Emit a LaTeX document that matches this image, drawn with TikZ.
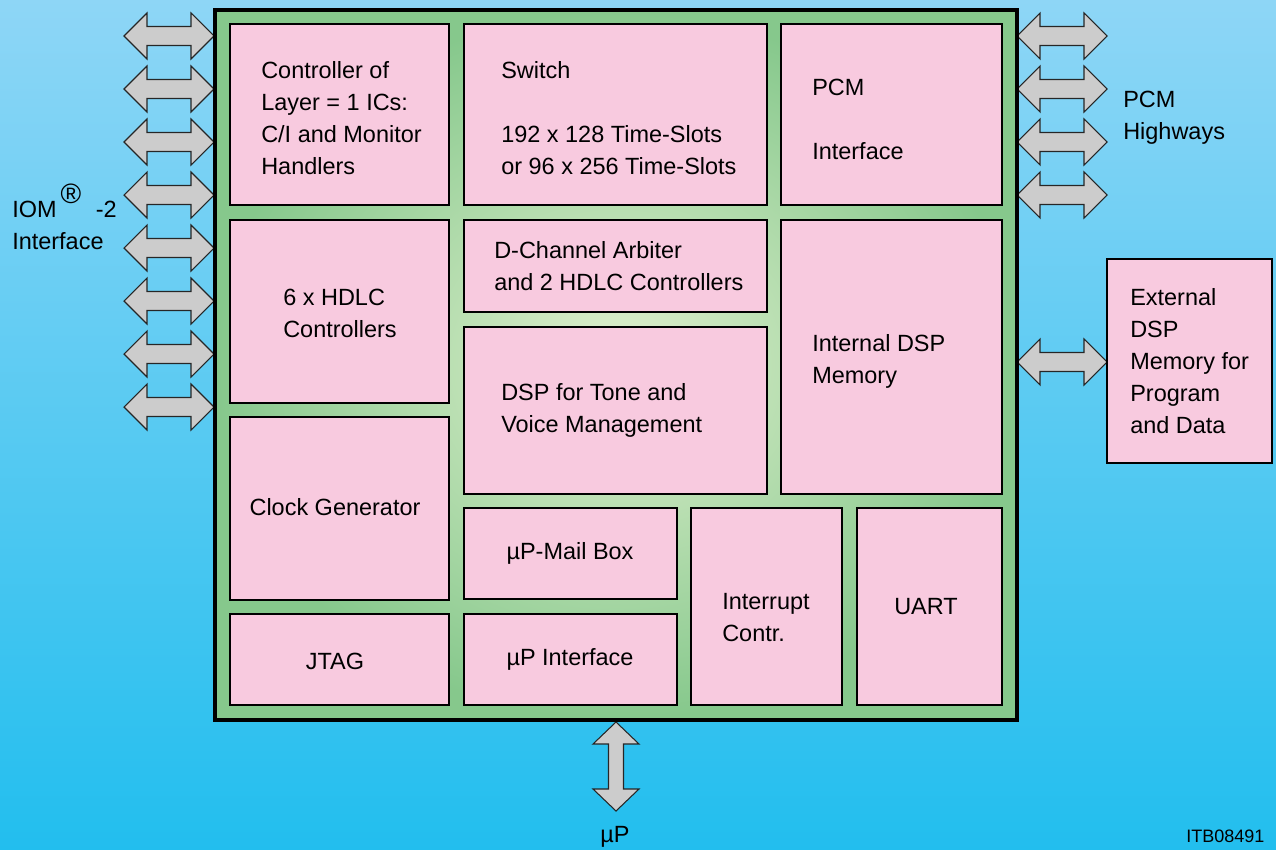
\documentclass[tikz,border=0pt]{standalone}
\usepackage{fontspec}
\setmainfont{Liberation Sans}
\usetikzlibrary{fit}
\definecolor{bgtop}{RGB}{142,214,246}
\definecolor{bgbot}{RGB}{34,190,238}
\definecolor{chipout}{RGB}{134,200,140}
\definecolor{chipin}{RGB}{224,240,206}
\definecolor{pinkfill}{RGB}{248,202,223}
\definecolor{busgray}{RGB}{204,204,204}
\tikzset{
  lbl/.style={font=\fontsize{17.6}{24}\selectfont, inner sep=0pt, align=left},
  pinkbox/.style={draw=black, line width=2.2pt, fill=pinkfill, inner sep=0pt},
  chipbox/.style={draw=black, line width=2.4pt, inner color=chipin, outer color=chipout, inner sep=0pt},
  busline/.style={draw=black!85, line width=0.8pt, fill=busgray, line join=miter},
  busarrowh/.pic={\draw[busline] (0,0) -- (23,-23) -- (23,-9.5) -- (67,-9.5) -- (67,-23) -- (90,0) -- (67,23) -- (67,9.5) -- (23,9.5) -- (23,23) -- cycle;},
  busarrowv/.pic={\draw[busline] (0,0) -- (-23,22) -- (-7.5,22) -- (-7.5,67) -- (-23,67) -- (0,89) -- (23,67) -- (7.5,67) -- (7.5,22) -- (23,22) -- cycle;}
}
\begin{document}
\begin{tikzpicture}[x=0.75pt,y=-0.75pt]
\useasboundingbox (0,0) rectangle (1276,849);
\shade[top color=bgtop, bottom color=bgbot] (0,0) rectangle (1276,849);

% bus arrows
\foreach \k in {0,...,7} \pic at (124,{36+53*\k}) {busarrowh};
\foreach \k in {0,...,3} \pic at (1017,{36+53*\k}) {busarrowh};
\pic at (1017,362) {busarrowh};
\pic at (616,722) {busarrowv};

% chip
\node[chipbox, fit={(215,10) (1017,720)}] (chip) {};

% blocks
\node[pinkbox, fit={(230,24) (449,205)}] (ctrl) {};
\node[pinkbox, fit={(464,24) (767,205)}] (switch) {};
\node[pinkbox, fit={(781,24) (1002,205)}] (pcmif) {};
\node[pinkbox, fit={(230,220) (449,403)}] (hdlc) {};
\node[pinkbox, fit={(464,220) (767,312)}] (dch) {};
\node[pinkbox, fit={(464,327) (767,494)}] (dsp) {};
\node[pinkbox, fit={(781,220) (1002,494)}] (intmem) {};
\node[pinkbox, fit={(230,417) (449,600)}] (clock) {};
\node[pinkbox, fit={(464,508) (677,599)}] (mailbox) {};
\node[pinkbox, fit={(464,614) (677,705)}] (upif) {};
\node[pinkbox, fit={(230,614) (449,705)}] (jtag) {};
\node[pinkbox, fit={(691,508) (842,705)}] (intr) {};
\node[pinkbox, fit={(857,508) (1002,705)}] (uart) {};
\node[pinkbox, fit={(1107,259) (1272,463)}] (extmem) {};

% block texts
\node[lbl, anchor=west] (tctrl) at (261,118) {Controller of\\Layer = 1 ICs:\\C/I and Monitor\\Handlers};
\node[lbl, anchor=west] (tswitch) at (501,118) {Switch\\[24pt]192 x 128 Time-Slots\\or 96 x 256 Time-Slots};
\node[lbl, anchor=west] (tpcm) at (812,119) {PCM\\[24pt]Interface};
\node[lbl, anchor=west] (thdlc) at (283,313) {6 x HDLC\\Controllers};
\node[lbl, anchor=west] (tdch) at (494,266) {D-Channel Arbiter\\and 2 HDLC Controllers};
\node[lbl, anchor=west] (tdsp) at (501,410) {DSP for Tone and\\Voice Management};
\node[lbl, anchor=west] (tintmem) at (812,361) {Internal DSP\\Memory};
\node[lbl] (tclock) at (335,507) {Clock Generator};
\node[lbl] (tmail) at (570,553) {µP-Mail Box};
\node[lbl] (tupif) at (570,659) {µP Interface};
\node[lbl] (tjtag) at (335,661) {JTAG};
\node[lbl, anchor=west] (tintr) at (722,618) {Interrupt\\Contr.};
\node[lbl] (tuart) at (926,607) {UART};
\node[lbl, anchor=west] (text) at (1130,361) {External\\DSP\\Memory for\\Program\\and Data};

% outside labels
\node[lbl, anchor=base west] (iom) at (12,217) {IOM\hspace{3pt}\raisebox{10.5pt}{\fontsize{21}{24}\selectfont ®}\hspace{11pt}-2};
\node[lbl, anchor=base west] (iom2) at (12,249) {Interface};
\node[lbl, anchor=base west] (pcmhw) at (1123,107) {PCM};
\node[lbl, anchor=base west] (pcmhw2) at (1123,139) {Highways};
\node[lbl, anchor=base] (up) at (615,842) {µP};
\node[font=\fontsize{13.5}{16}\selectfont, inner sep=0pt, anchor=base west] (itb) at (1186,842) {ITB08491};
\end{tikzpicture}
\end{document}
